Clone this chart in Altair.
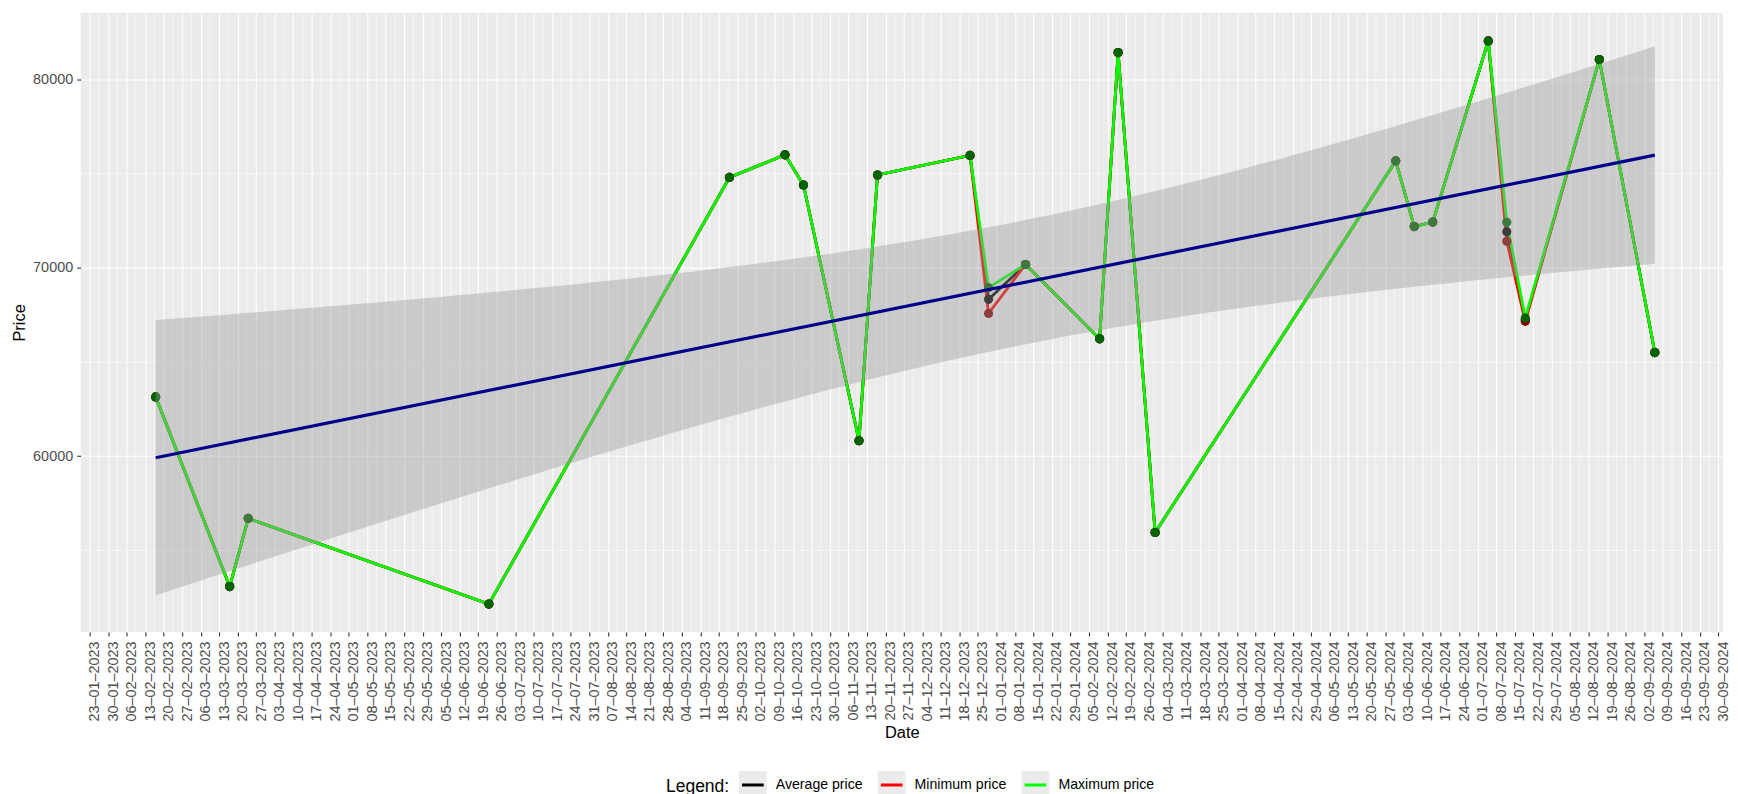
import altair as alt
import pandas as pd
import numpy as np

# ---------------- data ----------------
dates = ["2023-02-17", "2023-03-17", "2023-03-24", "2023-06-23", "2023-09-22",
         "2023-10-13", "2023-10-20", "2023-11-10", "2023-11-17", "2023-12-22",
         "2023-12-29", "2024-01-12", "2024-02-09", "2024-02-16", "2024-03-01",
         "2024-05-31", "2024-06-07", "2024-06-14", "2024-07-05", "2024-07-12",
         "2024-07-19", "2024-08-16", "2024-09-06"]
avg_price = [63150, 53080, 56700, 52150, 74800, 76000, 74400, 60820, 74930, 75970,
             68330, 70180, 66230, 81430, 55950, 75680, 72190, 72430, 82050, 71920,
             67250, 81060, 65500]
min_price = [63150, 53080, 56700, 52150, 74800, 76000, 74400, 60820, 74930, 75970,
             67580, 70180, 66230, 81430, 55950, 75680, 72190, 72430, 82050, 71410,
             67160, 81060, 65500]
max_price = [63150, 53080, 56700, 52150, 74800, 76000, 74400, 60820, 74930, 75970,
             68950, 70180, 66230, 81430, 55950, 75680, 72190, 72430, 82050, 72420,
             67340, 81060, 65500]
series_names = ["Average price", "Minimum price", "Maximum price"]
line_colors = ["black", "red", "#00ff00"]
point_colors = ["black", "#8b0000", "#006400"]
y_major = [60000, 70000, 80000]
y_minor = [55000, 65000, 75000]
tick_first, tick_last = "2023-01-23", "2024-09-30"
x_domain = ["2023-01-19T15:00:00", "2024-10-01T19:00:00"]
y_domain = [50670, 83540]


def to_ms(values):
    idx = pd.to_datetime(values)
    return [int((v - pd.Timestamp("1970-01-01")) / pd.Timedelta("1ms")) for v in idx]


t_ms = to_ms(dates)
rows = []
for name, arr in zip(series_names, [avg_price, min_price, max_price]):
    for t, p in zip(t_ms, arr):
        rows.append({"t": t, "price": p, "series": name})
df = pd.DataFrame(rows)

ticks = pd.date_range(tick_first, tick_last, freq="7D")
tick_ms = to_ms(ticks)
minor_ms = to_ms(ticks + pd.Timedelta("84h"))
df_minor_x = pd.DataFrame({"t": minor_ms})
df_minor_y = pd.DataFrame({"v": y_minor})

# 95% confidence band of the linear fit (like geom_smooth(method="lm"))
xd = np.array(t_ms, dtype=float) / 86400000.0
yv = np.array(avg_price, dtype=float)
n = len(xd)
xm = xd.mean()
sxx = ((xd - xm) ** 2).sum()
b1 = ((xd - xm) * (yv - yv.mean())).sum() / sxx
b0 = yv.mean() - b1 * xm
s = np.sqrt(((yv - (b0 + b1 * xd)) ** 2).sum() / (n - 2))
t_q = 2.0796  # Student t, 0.975 quantile, df = 21
grid = np.linspace(xd.min(), xd.max(), 150)
se = s * np.sqrt(1.0 / n + (grid - xm) ** 2 / sxx)
fit = b0 + b1 * grid
df_band = pd.DataFrame({"t": grid * 86400000.0, "lo": fit - t_q * se, "hi": fit + t_q * se})

# ---------------- scales / axes ----------------
x_dom_ms = to_ms(x_domain)
xscale = alt.Scale(type="utc", domain=x_dom_ms, nice=False)
yscale = alt.Scale(domain=y_domain, nice=False, zero=False)

x_axis = alt.Axis(
    values=tick_ms, labelExpr="utcFormat(datum.value, '%d–%m–%Y')",
    labelAngle=270, labelAlign="right", labelBaseline="middle", labelOffset=5,
    labelFontSize=14.5, labelColor="#4d4d4d", labelPadding=5, labelOverlap=False,
    labelFlush=False, tickSize=4, tickColor="#333333", tickWidth=1.1, domain=False,
    grid=True, gridColor="white", gridWidth=1.1,
    title="Date", titleFontSize=16.5, titleColor="black", titleFontWeight="normal",
    titlePadding=3,
)
y_axis = alt.Axis(
    values=y_major, format="d", labelFontSize=14.5, labelColor="#4d4d4d", labelPadding=4,
    tickSize=4, tickColor="#333333", tickWidth=1.1, domain=False,
    grid=True, gridColor="white", gridWidth=1.1,
    title="Price", titleFontSize=16.5, titleColor="black", titleFontWeight="normal",
    titlePadding=5,
)

X = alt.X("t:T", scale=xscale, axis=x_axis)
Y = alt.Y("price:Q", scale=yscale, axis=y_axis)

minor_x = alt.Chart(df_minor_x).mark_rule(color="white", strokeWidth=0.55).encode(
    x=alt.X("t:T", scale=xscale, axis=x_axis))
minor_y = alt.Chart(df_minor_y).mark_rule(color="white", strokeWidth=0.55).encode(
    y=alt.Y("v:Q", scale=yscale, axis=y_axis))

# legend key: grey box (fill) with a short coloured line (only the first stroke dash is drawn)
legend = alt.Legend(
    title="Legend:", orient="none", legendX=588, legendY=760, direction="horizontal",
    titleOrient="left", titleFontSize=17.6, titleFontWeight="normal", titleColor="black",
    titlePadding=7.8, labelFontSize=14.2, labelColor="black", labelOffset=7.5,
    columnPadding=8.5, symbolSize=784, symbolStrokeWidth=3,
    symbolType="M-0.78,0H1V-1H-1V1H1V0Z", symbolFillColor="#ebebeb",
    symbolDash=[21.8, 3000], symbolOpacity=1,
)
color = alt.Color("series:N", scale=alt.Scale(domain=series_names, range=line_colors),
                  legend=legend)

lines = []
for name in series_names:
    lines.append(
        alt.Chart(df).transform_filter(alt.datum.series == name)
        .mark_line(strokeWidth=2.8)
        .encode(x=X, y=Y, color=color)
    )
points = []
for name, pc in zip(series_names, point_colors):
    points.append(
        alt.Chart(df).transform_filter(alt.datum.series == name)
        .mark_circle(size=85, opacity=1, color=pc)
        .encode(x=X, y=Y)
    )

band = alt.Chart(df_band).mark_area(color="#999999", opacity=0.4).encode(
    x=alt.X("t:T", scale=xscale, axis=x_axis),
    y=alt.Y("lo:Q", scale=yscale, axis=y_axis),
    y2="hi:Q",
)
reg = (
    alt.Chart(df).transform_filter(alt.datum.series == "Average price")
    .transform_regression("t", "price", method="linear")
    .mark_line(color="#00008b", strokeWidth=3.2)
    .encode(x=X, y=Y)
)

chart = alt.layer(minor_x, minor_y, *lines, *points, band, reg).properties(
    width=1650, height=622,
    autosize=alt.AutoSizeParams(type="none"),
    padding={"left": 73, "top": 3, "right": 7, "bottom": 170},
).configure(font="Liberation Sans").configure_view(fill="#ebebeb", stroke=None)

chart.save("out.html", embed_options={"renderer": "svg", "actions": False})
